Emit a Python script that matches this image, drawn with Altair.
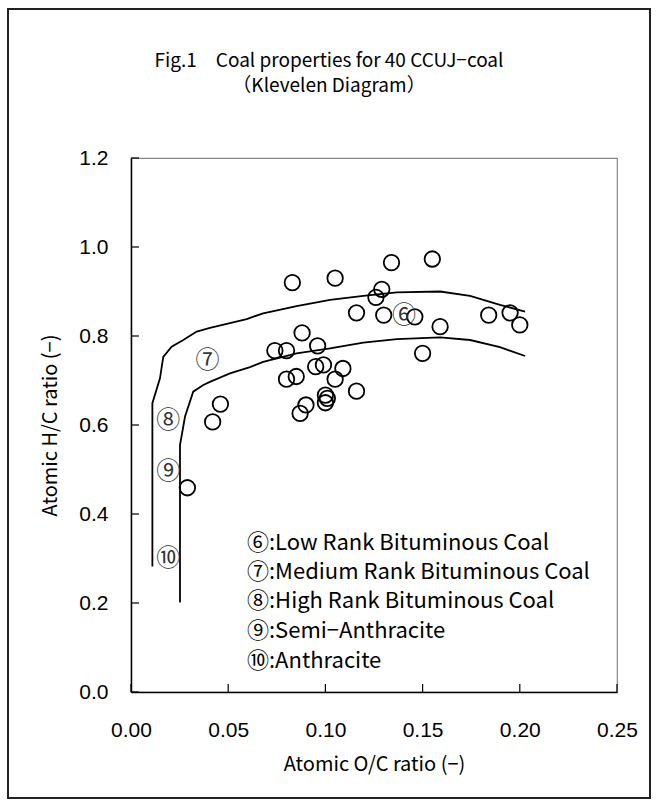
import altair as alt
import pandas as pd

# ---- data ----
oc_ratio = [0.083, 0.105, 0.134, 0.155, 0.129, 0.126, 0.116, 0.130, 0.146, 0.150,
            0.088, 0.074, 0.080, 0.096, 0.095, 0.099, 0.109, 0.105, 0.116, 0.080,
            0.085, 0.100, 0.100, 0.090, 0.087, 0.046, 0.042, 0.029, 0.159, 0.184,
            0.195, 0.200, 0.101]
hc_ratio = [0.920, 0.930, 0.965, 0.973, 0.905, 0.887, 0.852, 0.847, 0.843, 0.761,
            0.807, 0.767, 0.767, 0.778, 0.731, 0.735, 0.727, 0.703, 0.676, 0.703,
            0.709, 0.667, 0.650, 0.645, 0.626, 0.647, 0.607, 0.459, 0.821, 0.847,
            0.852, 0.825, 0.660]

upper_oc = [0.011, 0.011, 0.0149, 0.0166, 0.0209, 0.0269, 0.0338, 0.0406, 0.0509,
            0.0595, 0.068, 0.0852, 0.1024, 0.1195, 0.1367, 0.159, 0.1744, 0.1898, 0.2027]
upper_hc = [0.282, 0.649, 0.705, 0.753, 0.776, 0.791, 0.810, 0.818, 0.829,
            0.838, 0.851, 0.867, 0.881, 0.890, 0.898, 0.900, 0.890, 0.870, 0.855]
lower_oc = [0.0252, 0.0252, 0.0278, 0.032, 0.0372, 0.0406, 0.0509, 0.0612, 0.068,
            0.0852, 0.1024, 0.1195, 0.1367, 0.159, 0.1744, 0.1898, 0.2027]
lower_hc = [0.201, 0.555, 0.619, 0.675, 0.690, 0.697, 0.716, 0.730, 0.742,
            0.761, 0.772, 0.785, 0.793, 0.797, 0.791, 0.775, 0.755]

rank_marks = ["⑥", "⑦", "⑧", "⑨", "⑩"]
rank_oc = [0.1404, 0.0393, 0.0192, 0.0192, 0.0192]
rank_hc = [0.845, 0.744, 0.610, 0.495, 0.298]
rank_names = ["Low Rank Bituminous Coal", "Medium Rank Bituminous Coal",
              "High Rank Bituminous Coal", "Semi\u2212Anthracite", "Anthracite"]

x_ticks = [0.0, 0.05, 0.10, 0.15, 0.20, 0.25]
y_ticks = [0.0, 0.2, 0.4, 0.6, 0.8, 1.0, 1.2]
title_lines = ["Fig.1\u3000Coal properties for 40 CCUJ\u2212coal", "\uff08Klevelen Diagram\uff09"]
x_title = "Atomic O/C ratio (\u2212)"
y_title = "Atomic H/C ratio (\u2212)"

# ---- layout ----
W, H = 486, 534
FONT = "Noto Sans CJK JP"
TICKFONT = "Liberation Sans"

xs = alt.Scale(domain=[0, 0.25], nice=False, zero=False)
ys = alt.Scale(domain=[0, 1.2], nice=False, zero=False)

pts = pd.DataFrame({"oc": oc_ratio, "hc": hc_ratio})
curves = pd.concat([
    pd.DataFrame({"oc": upper_oc, "hc": upper_hc, "curve": "upper", "i": range(len(upper_oc))}),
    pd.DataFrame({"oc": lower_oc, "hc": lower_hc, "curve": "lower", "i": range(len(lower_oc))}),
])
ranks = pd.DataFrame({"oc": rank_oc, "hc": rank_hc, "mark": rank_marks})
xt = pd.DataFrame({"v": x_ticks})
yt = pd.DataFrame({"v": y_ticks})

x_axis = alt.Axis(values=x_ticks, format=".2f", title=x_title, ticks=False,
                  labelFlush=False, labelOverlap=False,
                  labelPadding=27, titlePadding=14, grid=False)
y_axis = alt.Axis(values=y_ticks, format=".1f", title=y_title, ticks=False,
                  labelFlush=False, labelOverlap=False,
                  labelPadding=23, titlePadding=18, grid=False)

frame = alt.Chart(pd.DataFrame({"a": [0]})).mark_rect(
    fill=None, stroke="#222", strokeWidth=2
).encode(x=alt.value(-123), x2=alt.value(519), y=alt.value(-149), y2=alt.value(640))

lines = alt.Chart(curves).mark_line(color="black", strokeWidth=1.8).encode(
    x=alt.X("oc:Q", scale=xs, axis=x_axis),
    y=alt.Y("hc:Q", scale=ys, axis=y_axis),
    detail="curve:N",
    order="i:Q",
)

points = alt.Chart(pts).mark_point(
    shape="circle", filled=False, color="black", strokeWidth=1.8, size=240, opacity=1
).encode(x=alt.X("oc:Q", scale=xs), y=alt.Y("hc:Q", scale=ys))

rank_text = alt.Chart(ranks).mark_text(
    font=FONT, fontSize=24, color="#333", align="center", baseline="middle"
).encode(x=alt.X("oc:Q", scale=xs), y=alt.Y("hc:Q", scale=ys), text="mark:N")

xtick_rules = alt.Chart(xt).mark_rule(color="black", strokeWidth=1.2).encode(
    x=alt.X("v:Q", scale=xs), y=alt.value(H), y2=alt.value(H - 8))
ytick_rules = alt.Chart(yt).mark_rule(color="black", strokeWidth=1.2).encode(
    y=alt.Y("v:Q", scale=ys), x=alt.value(0), x2=alt.value(8))

layers = [frame, lines, points, rank_text, xtick_rules, ytick_rules]

legend_y = [385, 414, 443, 473, 503]
for m, name, ly in zip(rank_marks, rank_names, legend_y):
    layers.append(
        alt.Chart(pd.DataFrame({"a": [0]})).mark_text(
            font=FONT, fontSize=22, color="black", align="left", baseline="middle"
        ).encode(x=alt.value(116), y=alt.value(ly), text=alt.value(f"{m}:{name}"))
    )

for line, ty in zip(title_lines, [-97, -72]):
    layers.append(
        alt.Chart(pd.DataFrame({"a": [0]})).mark_text(
            font=FONT, fontSize=19, color="black", align="center", baseline="middle"
        ).encode(x=alt.value(198), y=alt.value(ty), text=alt.value(line))
    )

chart = alt.layer(*layers).properties(
    width=W, height=H,
    autosize=alt.AutoSizeParams(type="none"),
    padding={"left": 131, "top": 158, "right": 41, "bottom": 115},
    background="white",
).configure_view(
    stroke="#888", strokeWidth=1.2
).configure_axis(
    domainColor="black", domainWidth=1.5,
    labelFont=TICKFONT, labelFontSize=21, labelColor="black",
    titleFont=FONT, titleFontSize=20, titleFontWeight="normal", titleColor="black",
)

chart.save("out.html", embed_options={"renderer": "svg", "actions": False})
